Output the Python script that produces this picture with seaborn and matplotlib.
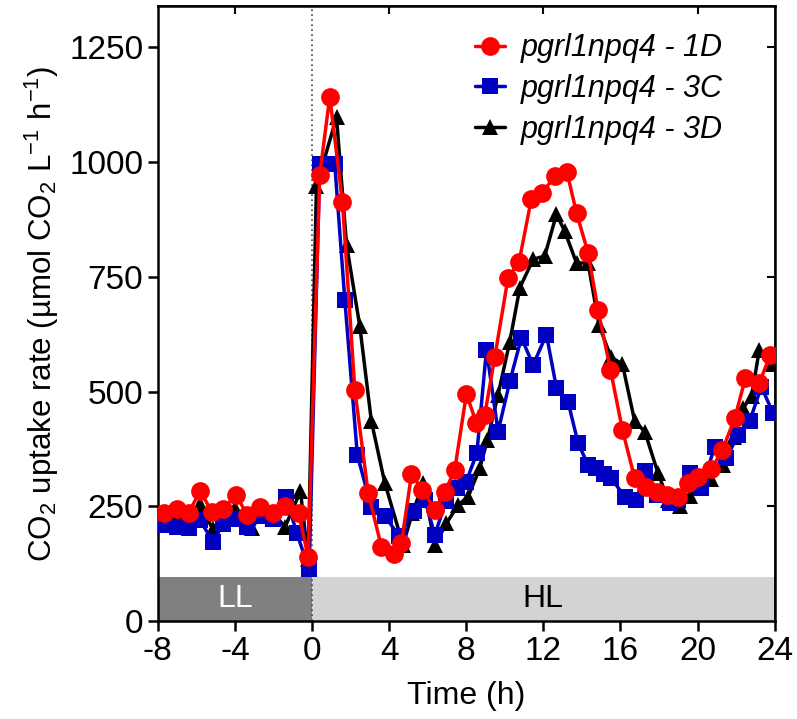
import pandas as pd
import numpy as np
import matplotlib
matplotlib.use("Agg")
import matplotlib.pyplot as plt
import seaborn as sns

# pgrl1npq4 - 1D (red circles)
t_1d = [-7.7, -7.0, -6.4, -5.8, -5.2, -4.6, -3.95, -3.35, -2.7, -2.05, -1.4, -0.7, -0.2,
        0.4, 0.92, 1.58, 2.22, 2.91, 3.6, 4.24, 4.64, 5.16, 5.73, 6.37, 6.89, 7.4, 8.01,
        8.53, 8.96, 9.48, 10.17, 10.74, 11.38, 11.95, 12.59, 13.23, 13.72, 14.32, 14.84,
        15.48, 16.1, 16.74, 17.35, 17.87, 18.42, 18.99, 19.51, 20.02, 20.72, 21.29, 21.93,
        22.48, 23.19, 23.78]
v_1d = [236, 244, 236, 284, 238, 244, 275, 231, 249, 236, 251, 236, 140,
        972, 1142, 912, 504, 280, 162, 146, 170, 320, 286, 242, 282, 329, 495,
        431, 449, 575, 748, 782, 920, 933, 969, 977, 889, 802, 677,
        548, 417, 311, 293, 282, 275, 271, 300, 315, 331, 373, 442,
        529, 518, 580]

# pgrl1npq4 - 3C (blue squares)
t_3c = [-7.7, -7.0, -6.4, -5.8, -5.15, -4.6, -4.0, -3.35, -2.7, -2.05, -1.35, -0.8, -0.15,
        0.4, 1.18, 1.7, 2.35, 3.08, 3.77, 4.5, 5.3, 5.85, 6.37, 6.95, 7.5, 8.0, 8.55,
        9.05, 9.65, 10.26, 10.86, 11.47, 12.16, 12.68, 13.28, 13.8, 14.32, 14.75, 15.15,
        15.53, 16.22, 16.83, 17.26, 17.87, 18.56, 19.0, 19.59, 20.2, 20.89, 21.5, 22.1,
        22.7, 23.31, 23.91]
v_3c = [209, 206, 202, 220, 173, 212, 222, 206, 228, 222, 271, 193, 113,
        995, 995, 700, 362, 248, 230, 186, 240, 265, 188, 262, 290, 304, 366,
        591, 413, 522, 617, 558, 624, 508, 478, 388, 340, 333, 320,
        311, 271, 264, 326, 275, 257, 265, 322, 289, 380, 355, 406,
        435, 511, 453]

# pgrl1npq4 - 3D (black triangles)
t_3d = [-7.7, -7.0, -6.4, -5.8, -5.15, -4.6, -4.0, -3.1, -2.7, -2.05, -1.4, -0.6, -0.2,
        0.23, 1.27, 1.79, 2.48, 3.08, 3.77, 4.72, 5.2, 5.77, 6.37, 6.97, 7.58, 8.1,
        8.7, 9.1, 9.65, 10.26, 10.78, 11.47, 12.07, 12.68, 13.11, 13.72, 14.32, 14.88,
        15.5, 16.1, 16.74, 17.26, 17.95, 18.47, 19.07, 19.6, 20.1, 20.7, 21.3, 21.9,
        22.36, 22.8, 23.2, 23.83]
v_3d = [225, 222, 225, 255, 200, 230, 247, 203, 230, 238, 205, 283, 135,
        947, 1097, 820, 642, 435, 302, 166, 235, 300, 166, 213, 253, 271,
        333, 395, 493, 609, 726, 788, 795, 886, 849, 780, 780, 646,
        575, 560, 435, 413, 322, 264, 250, 272, 290, 310, 340, 400,
        464, 490, 590, 560]

labels = ["pgrl1npq4 - 1D", "pgrl1npq4 - 3C", "pgrl1npq4 - 3D"]

sns.set_theme(style="ticks")
plt.rcParams['font.family'] = ['Liberation Sans', 'DejaVu Sans']
plt.rcParams['mathtext.fontset'] = 'custom'
plt.rcParams['mathtext.rm'] = 'Liberation Sans'
plt.rcParams['axes.unicode_minus'] = False
for k in ['text.color', 'axes.labelcolor', 'xtick.color', 'ytick.color']:
    plt.rcParams[k] = 'black'

fig = plt.figure(figsize=(7.97, 7.19), dpi=100)
ax = fig.add_axes([0.198, 0.136, 0.774, 0.856])

# light regime bars
ax.axvspan(-8, 0, ymin=0, ymax=96 / 1340, color='#808080', lw=0, zorder=0)
ax.axvspan(0, 24, ymin=0, ymax=96 / 1340, color='#d3d3d3', lw=0, zorder=0)
ax.text(-4, 48, "LL", color='white', fontsize=23, ha='center', va='center')
ax.text(12, 48, "HL", color='black', fontsize=23, ha='center', va='center')
ax.axvline(0, color='#444444', ls=(0, (1, 2)), lw=1.2, zorder=1)

sns.lineplot(x=t_3d, y=v_3d, ax=ax, color='black', marker='^', markersize=12,
             markeredgewidth=0, linewidth=2.5, label=labels[2], zorder=3)
sns.lineplot(x=t_3c, y=v_3c, ax=ax, color='#0000c0', marker='s', markersize=11,
             markeredgewidth=0, linewidth=2.5, label=labels[1], zorder=4)
sns.lineplot(x=t_1d, y=v_1d, ax=ax, color='#ff0000', marker='o', markersize=13.5,
             markeredgewidth=0, linewidth=2.5, label=labels[0], zorder=5)

ax.set_xlim(-8, 24)
ax.set_ylim(0, 1340)
ax.set_xticks(np.arange(-8, 25, 4))
ax.set_yticks(np.arange(0, 1251, 250))
ax.tick_params(axis='both', labelsize=24, width=1.8, length=7, direction='out')

for s in ax.spines.values():
    s.set_linewidth(1.8)
    s.set_color('black')

# inward ticks on the frame (top and right)
sec_y = ax.secondary_yaxis('right')
sec_y.set_yticks([250, 750, 1250])
sec_y.tick_params(direction='in', length=6, width=1.5, labelright=False)
sec_x = ax.secondary_xaxis('top')
sec_x.set_xticks([-4, 4, 12, 20])
sec_x.tick_params(direction='in', length=6, width=1.5, labeltop=False)

ax.set_xlabel("Time (h)", fontsize=23, labelpad=10)
ax.set_ylabel(r"CO$_2$ uptake rate (µmol CO$_2$ L$^{-1}$ h$^{-1}$)", fontsize=22.5, labelpad=6)

h, l = ax.get_legend_handles_labels()
order = [l.index(x) for x in labels]
leg = ax.legend([h[i] for i in order], [l[i] for i in order], loc='upper right',
                frameon=False, fontsize=22, handlelength=1.0, handletextpad=0.5,
                labelspacing=0.35, borderaxespad=0.2, bbox_to_anchor=(0.945, 0.985))
for txt in leg.get_texts():
    txt.set_fontstyle('italic')

plt.savefig("out.png", dpi=100)
plt.close()
